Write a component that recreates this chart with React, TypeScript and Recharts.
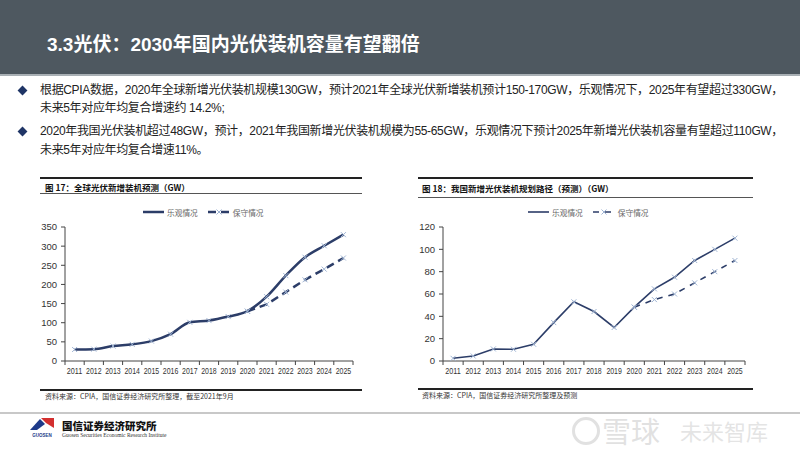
import React from "react";
import { LineChart, Line, XAxis, YAxis, Legend } from "recharts";

const years = ["2011", "2012", "2013", "2014", "2015", "2016", "2017", "2018", "2019", "2020", "2021", "2022", "2023", "2024", "2025"];
const seriesNames = ["乐观情况", "保守情况"];

// 图17 全球光伏新增装机 (GW)
const globalOptimistic = [30, 31, 39, 43.5, 52, 70, 101, 105.5, 116, 130, 168, 223, 271, 301, 330];
const globalConservative = [null, null, null, null, null, null, null, null, null, 130, 148, 180, 212, 240, 269];
const globalTicks = [0, 50, 100, 150, 200, 250, 300, 350];

// 图18 我国新增光伏装机 (GW)
const chinaOptimistic = [2.4, 4.5, 10.8, 10.5, 15, 34.4, 53, 44.3, 30, 48.2, 64.6, 75, 90, 100, 110];
const chinaConservative = [null, null, null, null, null, null, null, null, null, 48.2, 55, 60, 70, 80, 90];
const chinaTicks = [0, 20, 40, 60, 80, 100, 120];

const globalData = years.map((y, i) => ({ year: y, opt: globalOptimistic[i], con: globalConservative[i] }));
const chinaData = years.map((y, i) => ({ year: y, opt: chinaOptimistic[i], con: chinaConservative[i] }));

const NAVY = "#2c3d68";
const MARK = "#9fb4d3";
const CJK = '"Noto Sans CJK SC", sans-serif';
const LATIN_CJK = '"Liberation Sans", "Noto Sans CJK SC", sans-serif';
const SANS = '"Liberation Sans", Arial, sans-serif';

const CrossDot = (props: any) => {
  const { cx, cy } = props;
  if (cx == null || cy == null) return <g />;
  return (
    <g>
      <line x1={cx - 2.5} y1={cy - 2.5} x2={cx + 2.5} y2={cy + 2.5} stroke={MARK} strokeWidth={1} />
      <line x1={cx - 2.5} y1={cy + 2.5} x2={cx + 2.5} y2={cy - 2.5} stroke={MARK} strokeWidth={1} />
    </g>
  );
};

const makeXTick = (step: number) => (props: any) => {
  const { x, y, payload, index } = props;
  return (
    <g>
      <line x1={x - step / 2} y1={y} x2={x - step / 2} y2={y + 4} stroke="#444" />
      {index === years.length - 1 && <line x1={x + step / 2} y1={y} x2={x + step / 2} y2={y + 4} stroke="#444" />}
      <text
        x={x}
        y={y + 12.5}
        textAnchor="middle"
        fontSize={9}
        fontFamily={SANS}
        fill="#333"
        textLength={15.5}
        lengthAdjust="spacingAndGlyphs"
      >
        {payload.value}
      </text>
    </g>
  );
};

const makeLegend = (lineWidth: number, dash: string) => () => (
  <div style={{ display: "flex", justifyContent: "flex-start", alignItems: "center", height: 16, fontFamily: CJK, fontSize: 7.7, color: "#666" }}>
    <svg width={21} height={8}>
      <line x1={0} y1={4} x2={21} y2={4} stroke={NAVY} strokeWidth={lineWidth} />
    </svg>
    <span style={{ marginLeft: 3, marginRight: 10 }}>{seriesNames[0]}</span>
    <svg width={22} height={8}>
      <line x1={0} y1={4} x2={22} y2={4} stroke={NAVY} strokeWidth={lineWidth} strokeDasharray={dash} />
      <CrossDot cx={11} cy={4} />
    </svg>
    <span style={{ marginLeft: 3 }}>{seriesNames[1]}</span>
  </div>
);

interface PanelProps {
  data: any[];
  ticks: number[];
  max: number;
  left: number;
  width: number;
  legendLeft: number;
  smooth: boolean;
  optWidth: number;
  dash: string;
}

function Panel({ data, ticks, max, left, width, legendLeft, smooth, optWidth, dash }: PanelProps) {
  const plotWidth = width - 30 - 5;
  const step = plotWidth / years.length;
  return (
    <div style={{ position: "absolute", left, top: 200 }}>
      <LineChart width={width} height={186} data={data} margin={{ top: 11, right: 5, bottom: 5, left: 0 }}>
        <Legend
          verticalAlign="top"
          content={makeLegend(optWidth, dash)}
          wrapperStyle={{ top: 4, left: legendLeft, width: 160, height: 16 }}
        />
        <XAxis
          dataKey="year"
          scale="band"
          height={20}
          tickSize={0}
          tickMargin={0}
          interval={0}
          tick={makeXTick(step)}
          axisLine={{ stroke: "#444" }}
          tickLine={false}
        />
        <YAxis
          width={30}
          domain={[0, max]}
          ticks={ticks}
          interval={0}
          tickSize={4}
          tickMargin={4}
          axisLine={{ stroke: "#444" }}
          tickLine={{ stroke: "#444" }}
          tick={{ fontSize: 9.5, fontFamily: SANS, fill: "#333" }}
        />
        <Line
          dataKey="opt"
          name={seriesNames[0]}
          type={smooth ? "monotone" : "linear"}
          stroke={NAVY}
          strokeWidth={optWidth}
          dot={<CrossDot />}
          activeDot={false}
          isAnimationActive={false}
        />
        <Line
          dataKey="con"
          name={seriesNames[1]}
          type="linear"
          stroke={NAVY}
          strokeWidth={optWidth}
          strokeDasharray={dash}
          dot={<CrossDot />}
          activeDot={false}
          connectNulls={false}
          isAnimationActive={false}
        />
      </LineChart>
    </div>
  );
}

const rule = (left: number, top: number, width: number, h: number, color: string) => (
  <div style={{ position: "absolute", left, top, width, height: h, background: color }} />
);

const text = (left: number, top: number, content: string, style: React.CSSProperties) => (
  <div style={{ position: "absolute", left, top, whiteSpace: "nowrap", ...style }}>{content}</div>
);

const diamond = (cx: number, cy: number) => (
  <div style={{ position: "absolute", left: cx - 3.5, top: cy - 3.5, width: 7, height: 7, background: "#1f3566", transform: "rotate(45deg)" }} />
);

export default function App() {
  const bodyStyle: React.CSSProperties = { fontFamily: LATIN_CJK, fontSize: 12, letterSpacing: "-0.35px", lineHeight: "16px", color: "#222" };
  const titleStyle: React.CSSProperties = { fontFamily: CJK, fontSize: 8.5, fontWeight: 700, lineHeight: "12px", color: "#111" };
  const srcStyle: React.CSSProperties = { fontFamily: CJK, fontSize: 7, lineHeight: "10px", color: "#333" };
  return (
    <div style={{ position: "absolute", left: 0, top: 0, width: 800, height: 450, background: "#fff", overflow: "hidden" }}>
      {/* header */}
      <div style={{ position: "absolute", left: 0, top: 0, width: 800, height: 74, background: "#4e5860" }} />
      {rule(0, 74, 800, 2, "#a9b0b5")}
      {text(47, 32, "3.3光伏：2030年国内光伏装机容量有望翻倍", { fontFamily: LATIN_CJK, fontSize: 19, fontWeight: 700, color: "#fff", lineHeight: "26px" })}

      {/* bullets */}
      {diamond(22, 90)}
      {text(40, 82, "根据CPIA数据，2020年全球新增光伏装机规模130GW，预计2021年全球光伏新增装机预计150-170GW，乐观情况下，2025年有望超过330GW，", bodyStyle)}
      {text(40, 100, "未来5年对应年均复合增速约 14.2%;", bodyStyle)}
      {diamond(22, 131)}
      {text(40, 123, "2020年我国光伏装机超过48GW，预计，2021年我国新增光伏装机规模为55-65GW，乐观情况下预计2025年新增光伏装机容量有望超过110GW，", bodyStyle)}
      {text(40, 142, "未来5年对应年均复合增速11%。", bodyStyle)}

      {/* panel 1 */}
      {rule(40, 177, 322, 1.5, "#222")}
      {text(45, 181, "图 17：全球光伏新增装机预测（GW）", titleStyle)}
      {rule(40, 193, 322, 1, "#555")}
      <Panel
        data={globalData}
        ticks={globalTicks}
        max={350}
        left={35}
        width={323}
        legendLeft={108}
        smooth={true}
        optWidth={2.5}
        dash="8 5"
      />
      {rule(40, 389, 322, 1.5, "#222")}
      {text(45, 391, "资料来源：CPIA，国信证券经济研究所整理，截至2021年9月", srcStyle)}

      {/* panel 2 */}
      {rule(418, 177, 335, 1.5, "#222")}
      {text(422, 182, "图 18：我国新增光伏装机规划路径（预测）（GW）", titleStyle)}
      {rule(418, 197, 335, 1, "#555")}
      <Panel
        data={chinaData}
        ticks={chinaTicks}
        max={120}
        left={413}
        width={337}
        legendLeft={115}
        smooth={false}
        optWidth={1.6}
        dash="6 6"
      />
      {rule(418, 388, 335, 1.5, "#222")}
      {text(422, 390, "资料来源：CPIA，国信证券经济研究所整理及预测", srcStyle)}

      {/* footer */}
      {rule(0, 412, 800, 2, "#c8c8c8")}
      <svg style={{ position: "absolute", left: 28, top: 416 }} width={28} height={24}>
        <polygon points="2,14 12,3 17,8 9,14" fill="#1e3a8a" />
        <polygon points="13,2 26,2 26,12 18,7" fill="#d32f2f" />
        <text x={14} y={21} textAnchor="middle" fontSize={4.5} fontWeight={700} fontFamily={SANS} fill="#1e3a8a">GUOSEN</text>
      </svg>
      {text(62, 419, "国信证券经济研究所", { fontFamily: CJK, fontSize: 10.5, fontWeight: 900, color: "#111", lineHeight: "14px" })}
      {text(62, 432, "Guosen Securities Economic Research Institute", { fontFamily: '"Liberation Serif", serif', fontSize: 5.5, color: "#333", lineHeight: "7px" })}
      {text(602, 412, "雪球", { fontFamily: CJK, fontSize: 29, color: "rgba(200,200,200,0.55)", lineHeight: "36px" })}
      <div style={{ position: "absolute", left: 572, top: 417, width: 22, height: 22, borderRadius: "50%", border: "3px solid rgba(200,200,200,0.55)" }} />
      {text(680, 416, "未来智库", { fontFamily: CJK, fontSize: 22, color: "rgba(205,205,205,0.55)", lineHeight: "28px" })}
    </div>
  );
}
